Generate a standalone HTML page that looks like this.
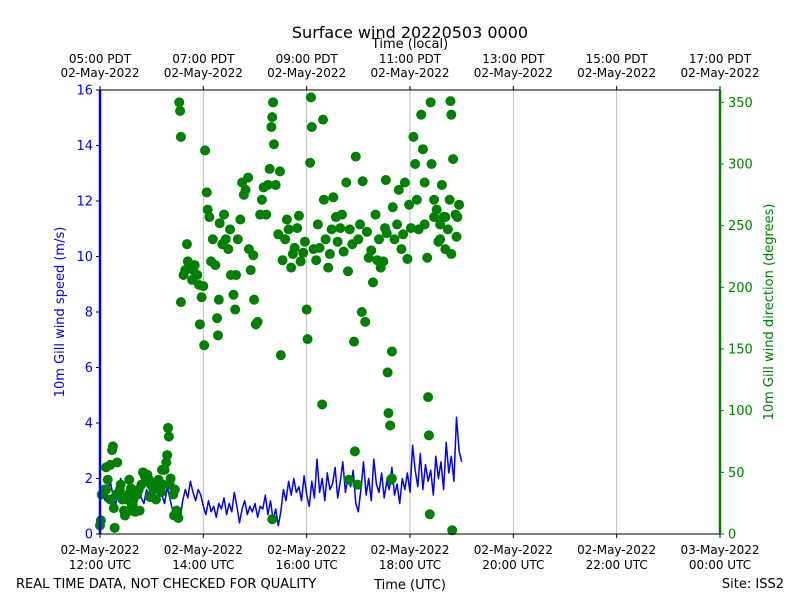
<!DOCTYPE html>
<html><head><meta charset="utf-8"><style>
body{margin:0;background:#fff;font-family:"Liberation Sans","DejaVu Sans",sans-serif}
svg text{font-family:"DejaVu Sans","Liberation Sans",sans-serif}
</style></head><body>
<svg id="c" width="800" height="600" xmlns="http://www.w3.org/2000/svg"></svg>
<script>
const speedStepMin = 3;
const speedValues = [1.3,1.6,1.2,1.5,1.9,1.4,1.0,1.7,2.0,1.3,1.5,0.9,1.4,1.6,1.2,1.8,1.3,1.1,1.6,1.4,1.9,
1.5,1.2,1.8,1.4,1.1,1.7,1.3,0.9,0.6,1.0,0.5,1.2,1.6,1.3,1.9,1.5,1.2,1.6,1.4,1.0,
0.7,1.2,0.8,1.0,0.6,1.1,0.9,1.3,0.7,1.1,0.8,1.5,1.0,0.4,0.9,1.2,0.7,1.0,0.8,1.1,
0.6,1.0,0.9,1.4,0.7,1.2,0.5,0.9,0.3,0.8,1.6,1.2,1.9,1.4,2.0,1.5,1.7,1.2,2.1,1.4,
1.0,1.9,1.3,2.7,1.5,2.0,1.2,2.2,1.6,1.8,2.4,1.3,1.9,2.6,1.5,2.1,1.7,2.3,1.1,0.8,
1.6,2.6,1.4,2.0,1.2,2.7,1.8,1.5,2.2,1.3,1.9,1.6,2.4,1.4,1.8,1.1,2.0,1.6,2.2,1.5,
3.2,2.3,1.7,2.9,1.6,2.5,1.9,2.3,1.4,2.8,2.0,2.6,1.6,3.3,2.2,2.8,1.9,4.2,3.0,2.6];
const dirMinutes = [0,1,2,5,7,9,12,14,15,17,20,21,23,26,28,30,33,34,36,38,41,43,45,48,50,52,55,57,59,62,64,66,68,71,73,75,77,78,79,80,82,85,87,89,91,7,12,16,19,24,29,36,39,46,58,65,72,81,86,
92,93,94,94,97,99,101,102,104,107,108,110,113,115,116,118,120,121,122,124,125,127,129,131,134,136,137,138,139,142,144,146,149,151,152,155,157,158,160,163,165,167,169,172,173,175,178,179,181,183,186,188,190,193,195,197,199,200,201,202,204,207,209,210,212,215,217,219,222,224,226,229,231,233,236,238,240,241,244,245,246,248,251,253,255,258,259,260,262,265,267,269,271,274,276,279,281,283,286,288,290,293,295,297,300,302,304,305,308,310,312,315,317,320,322,324,326,329,331,332,333,334,335,337,338,339,340,342,345,347,350,352,354,357,359,361,364,366,368,370,373,375,377,380,381,382,383,384,385,388,391,393,395,397,399,401,404,406,407,408,409,410,413,415,417,414,408,401,395,388,377,289,296,299,200,339];
const dirDegrees = [7,11,32,36,54,44,56,68,71,5,58,32,36,28,19,28,32,44,19,24,18,32,36,40,50,47,48,44,40,36,41,37,44,34,40,52,58,64,86,79,45,32,36,19,13,36,28,21,32,40,15,37,28,19,30,28,52,40,15,
350,343,322,188,210,214,235,221,218,206,214,218,210,202,170,192,201,153,311,277,263,257,221,239,218,175,161,190,252,235,259,239,231,247,210,194,182,210,239,255,285,275,279,289,231,214,226,190,170,172,259,271,281,259,283,296,330,338,350,316,283,243,294,145,222,239,255,247,216,227,232,248,258,221,228,237,182,158,301,354,330,231,222,251,232,105,336,271,239,216,227,247,273,257,237,248,259,229,285,213,247,235,156,306,239,251,180,286,172,245,224,230,204,259,222,239,216,221,248,287,244,131,98,88,44,148,265,239,251,279,231,243,285,223,267,248,322,300,271,247,340,312,285,224,111,80,16,350,300,271,263,237,251,283,257,231,247,271,351,340,3,304,259,257,267,241,227,257,239,257,251,44,67,40,12,45];
const leftTicks = [0,2,4,6,8,10,12,14,16];
const rightTicks = [0,50,100,150,200,250,300,350];
const bottomHours = [0,2,4,6,8,10,12];
const bottomLabels = [["02-May-2022","12:00 UTC"],["02-May-2022","14:00 UTC"],["02-May-2022","16:00 UTC"],["02-May-2022","18:00 UTC"],["02-May-2022","20:00 UTC"],["02-May-2022","22:00 UTC"],["03-May-2022","00:00 UTC"]];
const topHours = [0,2,4,6,8,10,12];
const topLabels = [["05:00 PDT","02-May-2022"],["07:00 PDT","02-May-2022"],["09:00 PDT","02-May-2022"],["11:00 PDT","02-May-2022"],["13:00 PDT","02-May-2022"],["15:00 PDT","02-May-2022"],["17:00 PDT","02-May-2022"]];

const L=100,R=720,T=90,B=534;
const xH=h=>L+(R-L)*h/12;
const xM=m=>xH(m/60);
const yS=v=>B-(B-T)*v/16;
const yD=d=>B-(B-T)*d/360;
const svg=document.getElementById('c');
const NS='http://www.w3.org/2000/svg';
function mk(tag,attrs,parent){const e=document.createElementNS(NS,tag);for(const k in attrs)e.setAttribute(k,attrs[k]);(parent||svg).appendChild(e);return e;}
function txt(s,x,y,attrs){const e=mk('text',Object.assign({x:x,y:y},attrs));e.textContent=s;return e;}

bottomHours.forEach((h,i)=>{if(i>0&&i<6){const g=mk('line',{x1:xH(h),x2:xH(h),y1:T,y2:B,stroke:'#b0b0b0','stroke-width':0.8});

}});
let d='';speedValues.forEach((v,i)=>{d+=(i?'L':'M')+xM(i*speedStepMin).toFixed(1)+' '+yS(v).toFixed(1);});
const ln=mk('path',{d:d,fill:'none',stroke:'#0000ff','stroke-width':1.5,'stroke-linejoin':'round'});


dirMinutes.forEach((m,i)=>{const c=mk('circle',{cx:xM(m),cy:yD(dirDegrees[i]),r:5,fill:'#008000'});

});
mk('line',{x1:L,x2:R,y1:T,y2:T,stroke:'#000','stroke-width':1});
mk('line',{x1:L,x2:R,y1:B,y2:B,stroke:'#000','stroke-width':1});
const la=mk('line',{x1:L,x2:L,y1:T,y2:B,stroke:'#0000ff','stroke-width':2.5});


const ra=mk('line',{x1:R,x2:R,y1:T,y2:B,stroke:'#008000','stroke-width':2.5});


leftTicks.forEach(v=>{mk('line',{x1:L-4,x2:L,y1:yS(v),y2:yS(v),stroke:'#000'});
const t=txt(String(v),L-7,yS(v)+4.5,{'text-anchor':'end','font-size':13,fill:'#0000ff'});

});
rightTicks.forEach(v=>{mk('line',{x1:R,x2:R+4,y1:yD(v),y2:yD(v),stroke:'#008000'});
const t=txt(String(v),R+8,yD(v)+4.5,{'font-size':13,fill:'#008000'});

});
bottomHours.forEach((h,i)=>{mk('line',{x1:xH(h),x2:xH(h),y1:B,y2:B+4,stroke:'#000'});
const t=txt(bottomLabels[i][0],xH(h),554,{'text-anchor':'middle','font-size':12});


const t2=txt(bottomLabels[i][1],xH(h),569,{'text-anchor':'middle','font-size':12});

});
topHours.forEach((h,i)=>{mk('line',{x1:xH(h),x2:xH(h),y1:T-4,y2:T,stroke:'#000'});
const t=txt(topLabels[i][0],xH(h),63,{'text-anchor':'middle','font-size':12});


const t2=txt(topLabels[i][1],xH(h),77,{'text-anchor':'middle','font-size':12});

});
</script>
<div style="position:absolute;left:0;top:0;width:800px;height:600px;pointer-events:none">
<svg width="800" height="600" style="position:absolute;left:0;top:0">
<text x="410" y="38" text-anchor="middle" font-size="16">Surface wind 20220503 0000</text>
<text x="410" y="48" text-anchor="middle" font-size="13">Time (local)</text>
<text x="410" y="589" text-anchor="middle" font-size="13">Time (UTC)</text>
<text x="16" y="588" font-size="13">REAL TIME DATA, NOT CHECKED FOR QUALITY</text>
<text x="784" y="588" text-anchor="end" font-size="13">Site: ISS2</text>
<text transform="translate(64,312) rotate(-90)" text-anchor="middle" font-size="13" fill="#0000ff">10m Gill wind speed (m/s)</text>
<text transform="translate(773,312) rotate(-90)" text-anchor="middle" font-size="13" fill="#008000">10m Gill wind direction (degrees)</text>
</svg></div>
</body></html>
